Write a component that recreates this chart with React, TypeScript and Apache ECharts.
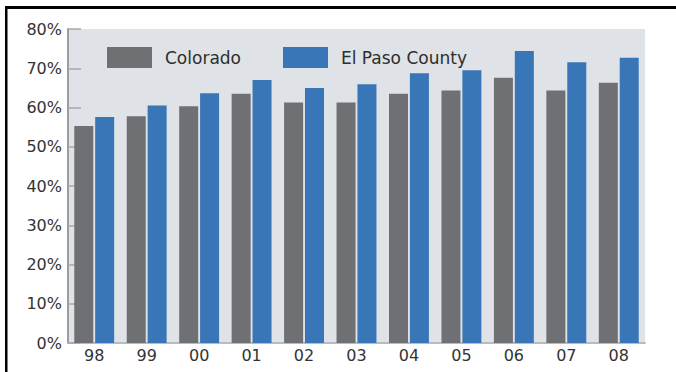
import React, { useEffect, useRef } from "react";
import * as echarts from "echarts";

const categories = ["98", "99", "00", "01", "02", "03", "04", "05", "06", "07", "08"];
const colorado = [55.3, 57.8, 60.3, 63.5, 61.3, 61.3, 63.5, 64.3, 67.6, 64.3, 66.3];
const elPaso = [57.6, 60.5, 63.6, 67.0, 65.0, 65.9, 68.7, 69.5, 74.4, 71.5, 72.7];
const seriesNames = ["Colorado", "El Paso County"];

export default function App() {
  const ref = useRef<HTMLDivElement>(null);
  useEffect(() => {
    if (!ref.current) return;
    const chart = echarts.init(ref.current, undefined, { renderer: "svg" });
    const font = "DejaVu Sans";
    chart.setOption({
      animation: false,
      backgroundColor: "#ffffff",
      textStyle: { fontFamily: font },
      grid: {
        left: 68,
        right: 31,
        top: 29,
        bottom: 29,
        show: true,
        backgroundColor: "#dfe2e6",
        borderWidth: 0,
      },
      legend: {
        data: seriesNames,
        left: 102,
        top: 42,
        itemWidth: 45,
        itemHeight: 21,
        itemGap: 42,
        icon: "rect",
        textStyle: { fontFamily: font, fontSize: 17, color: "#2e2e2e", padding: [0, 0, 0, 8] },
      },
      xAxis: {
        type: "category",
        data: categories,
        axisLine: { lineStyle: { color: "#b8bbbf", width: 2 } },
        axisTick: { show: false },
        axisLabel: { color: "#333333", fontSize: 16, margin: 4, fontFamily: font },
      },
      yAxis: {
        type: "value",
        min: 0,
        max: 80,
        interval: 10,
        axisLine: { show: true, lineStyle: { color: "#9a9da1", width: 2 } },
        axisTick: { show: true, inside: true, length: 13, lineStyle: { color: "#a5a8ac", width: 1.5 } },
        splitLine: { show: false },
        axisLabel: { formatter: "{value}%", color: "#333333", fontSize: 16, margin: 6, fontFamily: font },
      },
      series: [
        {
          name: seriesNames[0],
          type: "bar",
          data: colorado,
          barWidth: 19,
          barGap: "10%",
          itemStyle: { color: "#6f7073" },
        },
        {
          name: seriesNames[1],
          type: "bar",
          data: elPaso,
          barWidth: 19,
          barGap: "10%",
          itemStyle: { color: "#3876b8" },
        },
      ],
      graphic: [
        { type: "rect", shape: { x: 5, y: 6, width: 671, height: 3 }, style: { fill: "#000000" } },
        { type: "rect", shape: { x: 5, y: 6, width: 2.5, height: 366 }, style: { fill: "#000000" } },
      ],
    });
    return () => chart.dispose();
  }, []);
  return (
    <div
      ref={ref}
      style={{ position: "absolute", left: 0, top: 0, width: 676, height: 372 }}
    />
  );
}
